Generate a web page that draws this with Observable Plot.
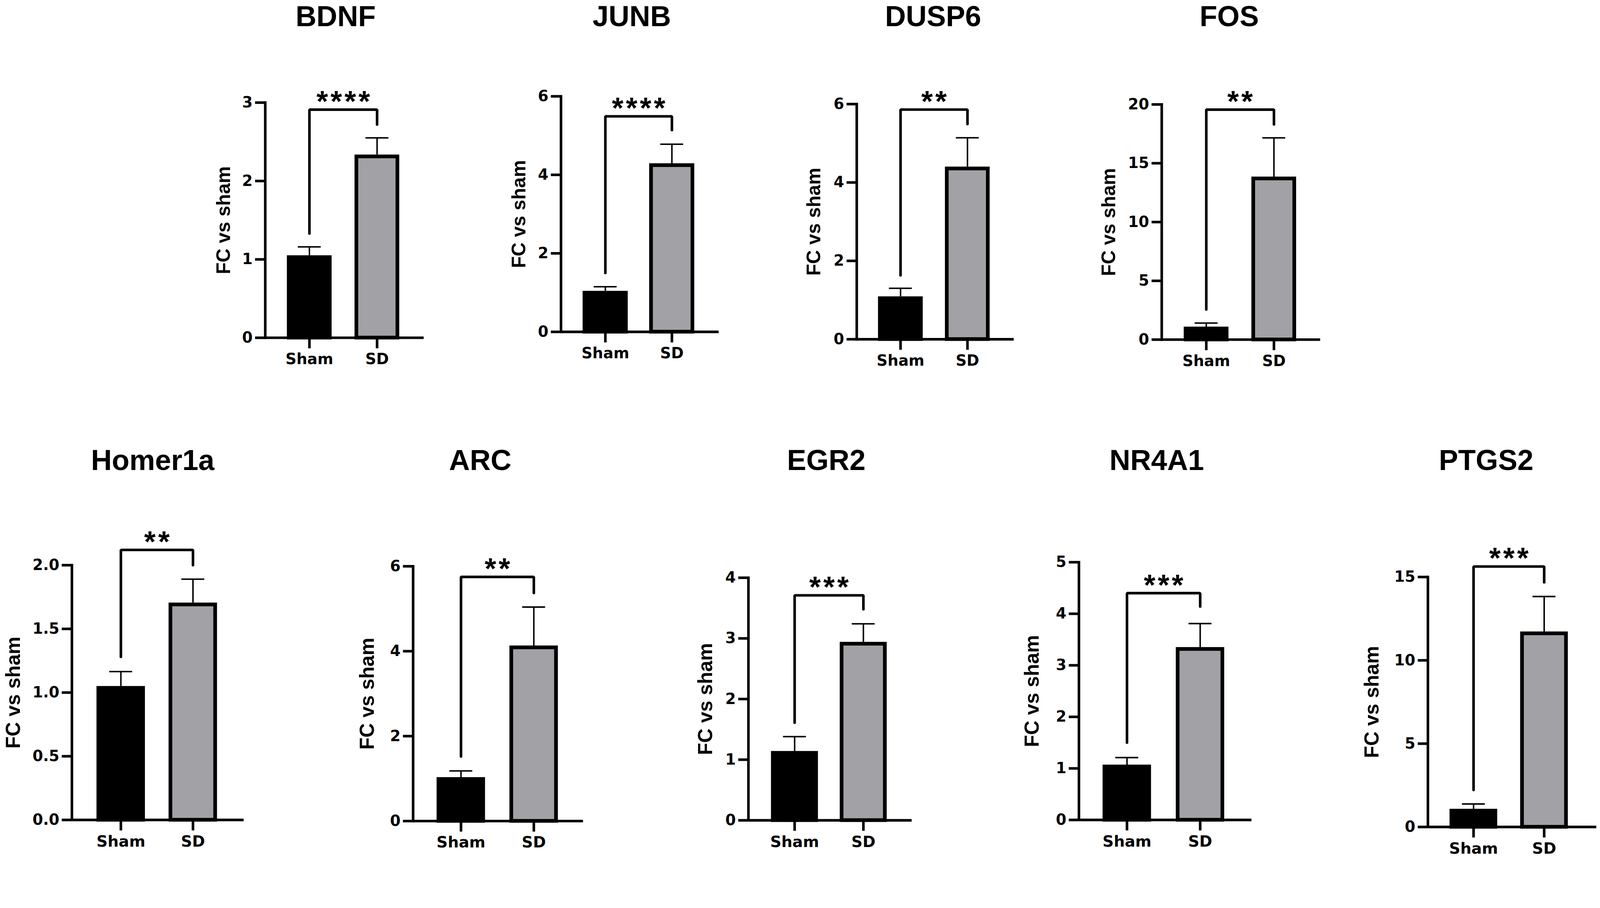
<!DOCTYPE html>
<html><head><meta charset="utf-8">
<script src="https://cdn.jsdelivr.net/npm/d3@7"></script>
<script src="https://cdn.jsdelivr.net/npm/@observablehq/plot@0.6"></script>
<style>
html,body{margin:0;padding:0;background:#fff;overflow:hidden;}
#fig{position:absolute;left:0;top:0;width:4328px;height:2324px;background:#fff;overflow:hidden;font-family:"Liberation Sans",Arial,Helvetica,sans-serif;transform-origin:0 0;}
.panel{position:absolute;}
.title{position:absolute;font-weight:bold;font-size:78px;line-height:78px;white-space:nowrap;transform:translateX(-50%);color:#000;}
</style></head><body><div id="fig"></div>
<script>
// ---- data ----
const genes = ["BDNF","JUNB","DUSP6","FOS","Homer1a","ARC","EGR2","NR4A1","PTGS2"];
const groups = ["Sham","SD"];
const shamMean = [1.05, 1.04, 1.09, 1.09, 1.05, 1.03, 1.14, 1.07, 1.08];
const shamHi   = [1.16, 1.15, 1.30, 1.41, 1.165, 1.18, 1.38, 1.21, 1.38];
const sdMean   = [2.335, 4.29, 4.40, 13.85, 1.705, 4.13, 2.94, 3.35, 11.72];
const sdHi     = [2.55, 4.78, 5.14, 17.16, 1.89, 5.04, 3.24, 3.81, 13.83];
const bracketTop   = [2.91, 5.49, 5.86, 19.56, 2.12, 5.75, 3.71, 4.40, 15.63];
const bracketLeft  = [1.33, 1.50, 1.63, 2.56, 1.28, 1.52, 1.61, 1.50, 2.22];
const bracketRight = [2.72, 5.14, 5.49, 18.3, 2.0, 5.37, 3.48, 4.14, 14.68];
const stars = ["****","****","**","**","**","**","***","***","***"];
const yMax = [3, 6, 6, 20, 2, 6, 4, 5, 15];
const yTicks = [[0,1,2,3],[0,2,4,6],[0,2,4,6],[0,5,10,15,20],[0,0.5,1,1.5,2],[0,2,4,6],[0,1,2,3,4],[0,1,2,3,4,5],[0,5,10,15]];
const yDecimals = [0,0,0,0,1,0,0,0,0];
const yLabel = "FC vs sham";
const groupFill = {Sham: "#000000", SD: "#a2a1a6"};

// ---- layout (pixels on the 4328x2324 page) ----
const layout = {
  axisX:   [717, 1517, 2317, 3142, 194, 1117, 2024, 2918, 3862],
  zeroY:   [913, 897, 917, 918, 2217, 2220, 2218, 2217, 2236],
  topY:    [277, 260, 281, 282, 1528, 1531, 1562, 1520, 1560],
  xEnd:    [1146, 1944, 2742, 3571, 659, 1577, 2466, 3385, 4318],
  cSham:   [836, 1637, 2435, 3262, 326, 1246, 2149, 3048, 3985],
  cSD:     [1019, 1817, 2616, 3445, 521, 1443, 2335, 3246, 4176],
  barW:    [121, 122, 121, 121, 131, 131, 127, 131, 129],
  labelOff:[112, 113, 115, 142, 158, 124, 116, 126, 151],
  titleX:  [908, 1709, 2524, 3325, 413, 1299, 2235, 3129, 4020],
  titleBase:[71, 71, 71, 71, 1271, 1271, 1271, 1271, 1271],
  row:     [0, 0, 0, 0, 1, 1, 1, 1, 1]
};
const labelFont = '"Liberation Sans", Arial, Helvetica, sans-serif';
const tickFont = '"DejaVu Sans", Verdana, sans-serif';
const barStroke = 10, capW = 62;
const starSep = "\u200A";

const fig = document.getElementById("fig");
function fit() {
  const s = Math.min(window.innerWidth / 4328, window.innerHeight / 2324);
  fig.style.transform = "scale(" + s + ")";
}
fit();
window.addEventListener("resize", fit);

genes.forEach((gene, i) => {
  const ax = layout.axisX[i], z = layout.zeroY[i], t = layout.topY[i], xe = layout.xEnd[i];
  const row = layout.row[i];
  const left = ax - 240, top = t - 210;
  const width = xe + 8 - left, height = Math.min(z + 130, 2324) - top;
  const ml = ax - left, mr = width - (xe - left), mt = t - top, mb = height - (z - top);
  const step = layout.cSD[i] - layout.cSham[i];
  const r0 = layout.cSham[i] - left - step / 2, r1 = layout.cSD[i] - left + step / 2;
  const geomW = layout.barW[i] - barStroke;
  const inset = (step - geomW) / 2;
  const data = groups.map((g, j) => ({group: g, mean: j ? sdMean[i] : shamMean[i], hi: j ? sdHi[i] : shamHi[i]}));
  const bracket = [
    {group: "Sham", v: bracketLeft[i]}, {group: "Sham", v: bracketTop[i]},
    {group: "SD", v: bracketTop[i]}, {group: "SD", v: bracketRight[i]}
  ];
  const fmt = yDecimals[i] ? d3.format(".1f") : d3.format("d");
  const chart = Plot.plot({
    width, height,
    marginLeft: ml, marginRight: mr, marginTop: mt, marginBottom: mb,
    style: {fontFamily: tickFont, fontWeight: "bold", background: "transparent", overflow: "visible", maxWidth: "none", color: "#000"},
    x: {type: "band", domain: groups, range: [r0, r1], padding: 0, label: null},
    y: {domain: [0, yMax[i]], label: null},
    color: {type: "identity"},
    marks: [
      Plot.ruleX(data, {x: "group", y1: "mean", y2: "hi", stroke: "#000", strokeWidth: 4}),
      Plot.tickY(data, {x: "group", y: "hi", inset: (step - capW) / 2, stroke: "#000", strokeWidth: 4}),
      Plot.barY(data, {x: "group", y: "mean", fill: d => groupFill[d.group], stroke: "#000", strokeWidth: barStroke,
        insetLeft: inset, insetRight: inset, insetTop: barStroke / 2}),
      Plot.line(bracket, {x: "group", y: "v", stroke: "#000", strokeWidth: 7, strokeLinecap: "round", strokeLinejoin: "miter"}),
      Plot.text([{group: "Sham", v: bracketTop[i], s: stars[i].split("").join(starSep)}], {x: "group", y: "v", text: "s",
        dx: step / 2, dy: -21, fontSize: 80, fontWeight: "bold", fontFamily: labelFont, fill: "#000",
        textAnchor: "middle", lineAnchor: "middle"}),
      Plot.ruleY([0], {stroke: "#000", strokeWidth: 7}),
      Plot.frame({anchor: "left", stroke: "#000", strokeWidth: 7}),
      Plot.axisY({ticks: yTicks[i], tickFormat: fmt, tickSize: 27, tickPadding: 7, strokeWidth: 7,
        fontSize: 41, fontFamily: tickFont, label: null}),
      Plot.axisX({tickSize: 29, tickPadding: 13, strokeWidth: 7, fontSize: row ? 42 : 41, fontFamily: tickFont, label: null}),
      Plot.text([yLabel], {frameAnchor: "left", rotate: -90, dx: -layout.labelOff[i], fontSize: row ? 54 : 52,
        fontWeight: "bold", fontFamily: labelFont, fill: "#000", textAnchor: "middle", lineAnchor: "middle"})
    ]
  });
  const div = document.createElement("div");
  div.className = "panel";
  div.style.left = left + "px";
  div.style.top = top + "px";
  div.style.width = width + "px";
  div.style.height = height + "px";
  div.appendChild(chart);
  fig.appendChild(div);

  const tt = document.createElement("div");
  tt.className = "title";
  tt.textContent = gene;
  tt.style.left = layout.titleX[i] + "px";
  tt.style.top = (layout.titleBase[i] - 66) + "px";
  fig.appendChild(tt);
});
</script></body></html>
